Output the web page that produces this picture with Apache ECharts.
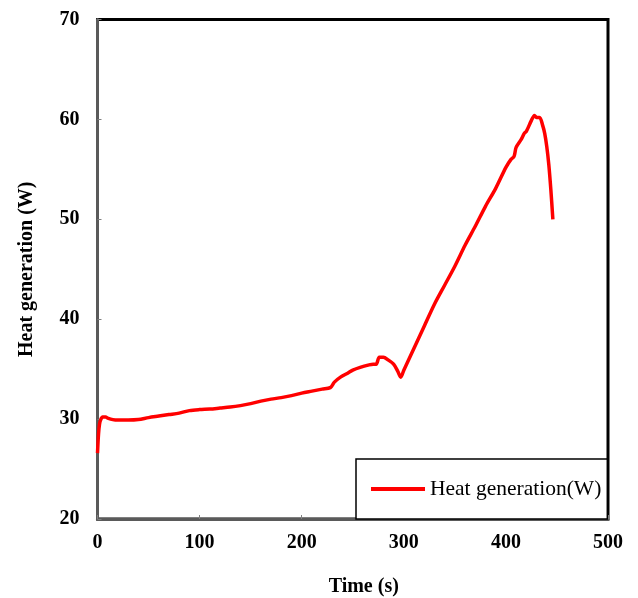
<!DOCTYPE html>
<html>
<head>
<meta charset="utf-8">
<script src="https://cdn.jsdelivr.net/npm/echarts@6/dist/echarts.min.js"></script>
<style>html,body{margin:0;padding:0;background:#fff;}#c{width:638px;height:598px;}</style>
</head>
<body>
<div id="c"></div>
<script>
const timeS = [0,1,2,3,5,8,10,15,20,30,40,50,60,70,80,90,100,110,120,130,140,150,160,170,180,190,200,210,220,228,232,238,245,250,258,265,270,273,276,280,285,290,294,297,300,310,320,330,340,350,360,370,380,390,400,405,408,410,415,418,420,425,428,430,433,436,438,440,442,444,446];
const heatW = [26.6,28.5,29.5,29.9,30.2,30.2,30.1,29.95,29.9,29.9,29.95,30.15,30.3,30.45,30.6,30.85,30.95,31.0,31.1,31.2,31.35,31.55,31.8,32.0,32.15,32.35,32.6,32.8,33.0,33.15,33.7,34.2,34.6,34.9,35.2,35.4,35.5,35.5,36.2,36.2,35.9,35.5,34.8,34.2,34.9,37.1,39.3,41.5,43.4,45.3,47.4,49.3,51.3,53.1,55.2,56.0,56.3,57.2,58.0,58.6,58.8,59.9,60.4,60.2,60.2,59.4,58.6,57.3,55.5,53.0,50.0];
const seriesName = 'Heat generation(W)';
const xTitle = 'Time (s)';
const yTitle = 'Heat generation (W)';

const font = 'Liberation Serif';
const chart = echarts.init(document.getElementById('c'), null, {renderer: 'canvas'});
chart.setOption({
  animation: false,
  backgroundColor: '#fff',
  grid: {left: 97.5, right: 30, top: 19.5, bottom: 79, containLabel: false, outerBoundsMode: 'none', show: true, borderColor: '#000', borderWidth: 3, backgroundColor: 'transparent'},
  legend: {
    show: true,
    left: 356, top: 459,
    orient: 'horizontal',
    backgroundColor: '#fff',
    borderColor: '#000', borderWidth: 1.5, borderRadius: 0,
    padding: [19, 6, 19, 15],
    itemWidth: 54, itemHeight: 4, itemGap: 5,
    textStyle: {fontFamily: font, fontSize: 21.5, lineHeight: 22, color: '#000'},
    data: [{name: seriesName, icon: 'rect', itemStyle: {color: '#ff0000'}}]
  },
  xAxis: {
    type: 'value', min: 0, max: 500, interval: 100,
    name: xTitle, nameLocation: 'middle', nameGap: 58,
    nameTextStyle: {fontFamily: font, fontSize: 20, fontWeight: 'bold', color: '#000', padding: [0,0,0,22]},
    axisLine: {show: true, onZero: false, lineStyle: {color: '#5a5a5a', width: 3}},
    axisTick: {show: true, inside: true, length: 4, lineStyle: {color: '#808080', width: 1}},
    axisLabel: {fontFamily: font, fontSize: 20, fontWeight: 'bold', color: '#000', margin: 14},
    splitLine: {show: false}
  },
  yAxis: {
    type: 'value', min: 20, max: 70, interval: 10,
    name: yTitle, nameLocation: 'middle', nameGap: 61, nameRotate: 90,
    nameTextStyle: {fontFamily: font, fontSize: 20, fontWeight: 'bold', color: '#000'},
    axisLine: {show: true, onZero: false, lineStyle: {color: '#5a5a5a', width: 3}},
    axisTick: {show: true, inside: true, length: 4, lineStyle: {color: '#808080', width: 1}},
    axisLabel: {fontFamily: font, fontSize: 20, fontWeight: 'bold', color: '#000', margin: 18},
    splitLine: {show: false}
  },
  series: [{
    name: seriesName,
    type: 'line',
    data: timeS.map((t, i) => [t, heatW[i]]),
    showSymbol: false,
    symbol: 'none',
    smooth: 0.3,
    lineStyle: {color: '#ff0000', width: 3.5},
    itemStyle: {color: '#ff0000'}
  }]
});
</script>
</body>
</html>
